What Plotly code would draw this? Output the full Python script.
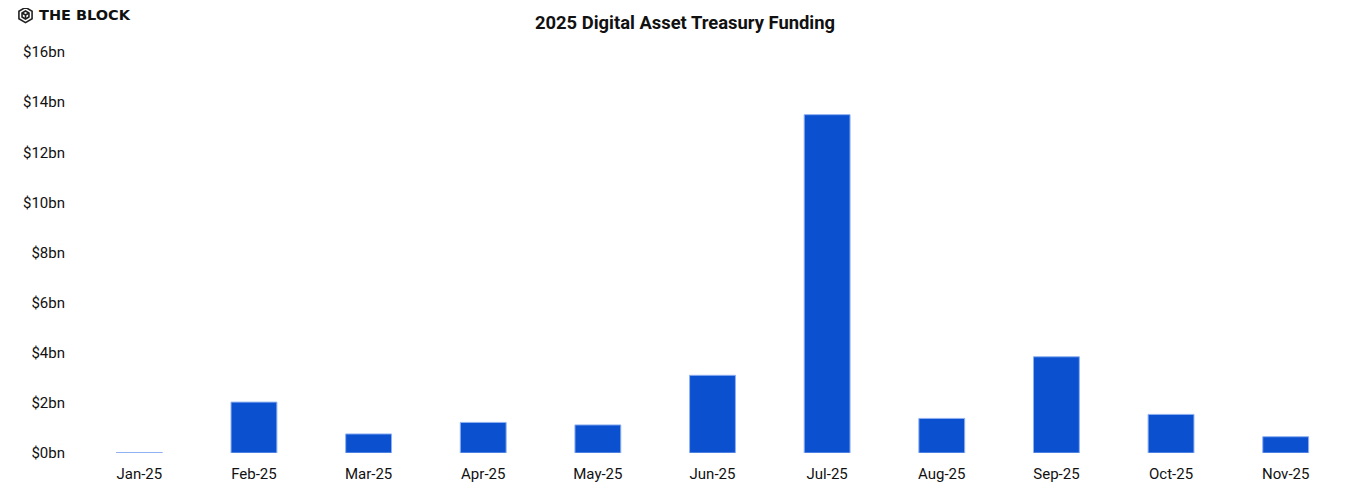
import math
import plotly.graph_objects as go

months = ["Jan-25", "Feb-25", "Mar-25", "Apr-25", "May-25", "Jun-25",
          "Jul-25", "Aug-25", "Sep-25", "Oct-25", "Nov-25"]
funding_bn = [0.02, 2.03, 0.76, 1.22, 1.12, 3.10, 13.50, 1.38, 3.84, 1.54, 0.65]
tick_vals = [0, 2, 4, 6, 8, 10, 12, 14, 16]
tick_text = ["$0bn", "$2bn", "$4bn", "$6bn", "$8bn", "$10bn", "$12bn", "$14bn", "$16bn"]

# page has an 8px body margin; figure sized to fit
W, H = 1340, 481
ML, MR, MT, MB = 74, 5, 44, 36
pw = W - ML - MR
ph = H - MT - MB


def px_x(x):
    return (x - ML) / pw


def px_y(y):
    return 1 + (MT - y) / ph


def hexpath(r):
    pts = []
    for k in range(6):
        a = math.radians(90 + 60 * k)
        pts.append((r * math.cos(a), r * math.sin(a)))
    return "M " + " L ".join(f"{x:.2f},{y:.2f}" for x, y in pts) + " Z"


r_in = 4.0
inner = hexpath(r_in)
c = math.cos(math.radians(30)) * r_in
spokes = (f"M 0,0 L 0,{-r_in:.2f} M 0,0 L {c:.2f},{r_in/2:.2f} "
          f"M 0,0 L {-c:.2f},{r_in/2:.2f}")

icon_x, icon_y = px_x(17.5), px_y(7)

fig = go.Figure(go.Bar(
    x=months, y=funding_bn,
    marker=dict(color="#0b50cf", line=dict(color="#8fb0f2", width=1)),
    hovertemplate="%{x}: $%{y}bn<extra></extra>",
))

shape_common = dict(type="path", xref="paper", yref="paper",
                    xsizemode="pixel", ysizemode="pixel",
                    xanchor=icon_x, yanchor=icon_y,
                    line=dict(color="#222222", width=1.6))

fig.update_layout(
    width=W, height=H,
    margin=dict(l=ML, r=MR, t=MT, b=MB),
    plot_bgcolor="white", paper_bgcolor="white",
    bargap=0.6,
    showlegend=False,
    font=dict(family="Roboto", size=15, color="#111111"),
    title=dict(text="<b>2025 Digital Asset Treasury Funding</b>",
               x=677 / W, xanchor="center", xref="container",
               y=1 - 15 / H, yanchor="middle", yref="container",
               font=dict(family="Roboto", size=18.4, color="#111111")),
    xaxis=dict(showgrid=False, showline=False, zeroline=False,
               tickfont=dict(size=15), ticks="", ticklabelstandoff=10),
    yaxis=dict(range=[0, 16], tickvals=tick_vals, ticktext=tick_text,
               showgrid=False, showline=False, zeroline=False,
               tickfont=dict(size=15), ticks="", ticklabelstandoff=16),
    shapes=[
        dict(path=hexpath(7.6), **shape_common),
        dict(path=inner, **shape_common),
        dict(path=spokes, **shape_common),
    ],
    annotations=[
        dict(text="<b>THE BLOCK</b>", xref="paper", yref="paper",
             x=px_x(29), y=px_y(7),
             xanchor="left", yanchor="middle", showarrow=False,
             font=dict(family="DejaVu Sans", size=14.5, color="#111111")),
    ],
)

fig.write_html("out.html")
